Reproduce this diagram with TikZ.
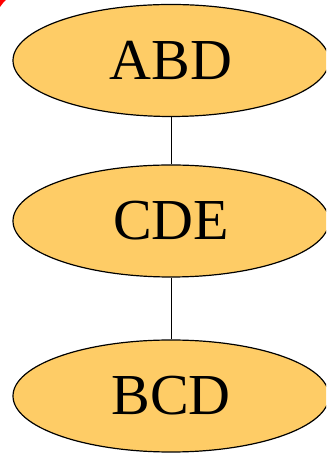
\documentclass[tikz,border=0pt]{standalone}
\usepackage{fontspec}
\setmainfont{Liberation Serif}
\usetikzlibrary{shapes.geometric}
\definecolor{nodefill}{RGB}{254,204,102}

\begin{document}
\begin{tikzpicture}[x=1pt,y=1pt]
	 \tikzstyle{vertex}=[ellipse,draw,line width=1.2pt,fill=nodefill,minimum width=316pt,minimum height=112pt,inner sep=0pt,font=\fontsize{58}{58}\selectfont]
	 \tikzstyle{edge} = [draw,line width=1pt,-,black]

	 \clip (0,0) rectangle (326,454);
	 \useasboundingbox (0,0) rectangle (326,454);

	 \node[vertex] (abd) at (171,393.5) {ABD};
	 \node[vertex] (cde) at (171,233) {CDE};
	 \node[vertex] (bcd) at (171,58) {BCD};

	 \draw[edge] (abd) -- (cde);
	 \draw[edge] (cde) -- (bcd);

  % red tip at the corner
  \fill[red] (0,447) -- (0,454) -- (6,454) -- (3,451) -- cycle;
 \end{tikzpicture}
\end{document}
